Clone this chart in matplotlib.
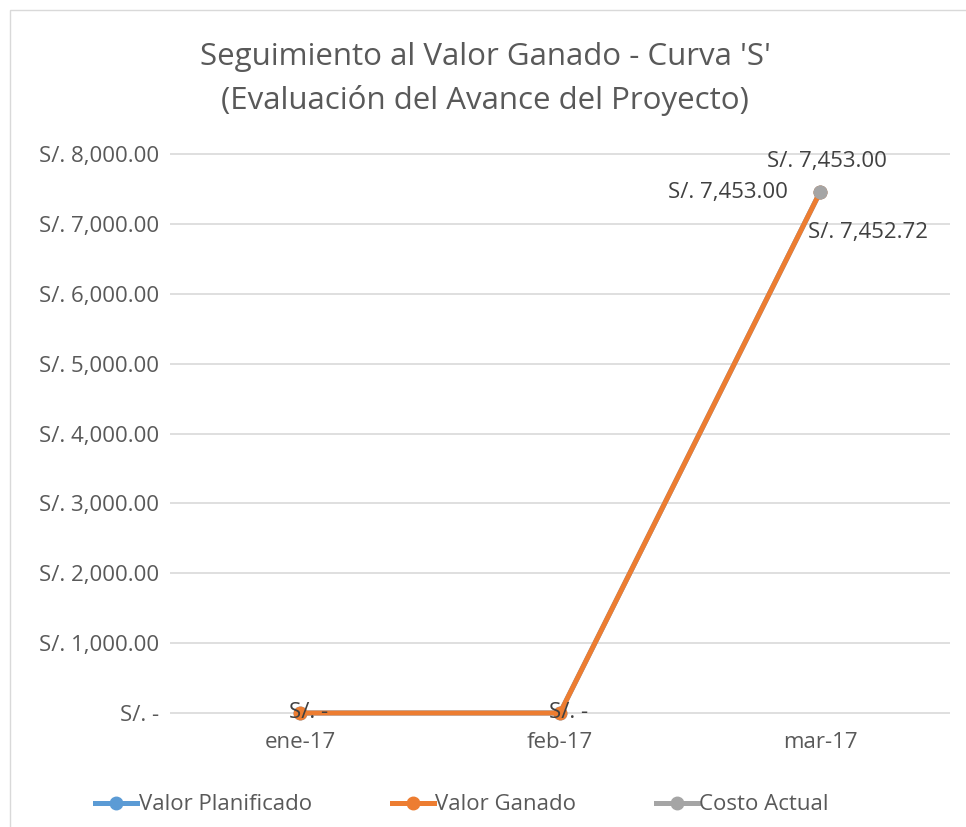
import numpy as np
import matplotlib.pyplot as plt
from matplotlib.lines import Line2D
from matplotlib.patches import Rectangle

plt.rcParams['font.family'] = ['Open Sans', 'DejaVu Sans']

# chart data
months = ['ene-17', 'feb-17', 'mar-17']
valor_planificado = [0.0, 0.0, 7453.00]
valor_ganado = [0.0, 0.0, 7452.72]
costo_actual = [np.nan, np.nan, 7453.00]
yticks = [0, 1000, 2000, 3000, 4000, 5000, 6000, 7000, 8000]

TXT = '#595959'
LBL = '#404040'
GRID = '#d9d9d9'
BLUE = '#5b9bd5'
ORANGE = '#ed7d31'
GRAY = '#a5a5a5'
FS = 16


def money(v):
    if v == 0:
        return 'S/. -'
    return f'S/. {v:,.2f}'


W, H = 966, 827
fig = plt.figure(figsize=(W / 100, H / 100), dpi=100)
ax = fig.add_axes([170 / W, 1 - 740 / H, 780 / W, (740 - 120) / H])

x = np.arange(len(months))
ax.plot(x, valor_planificado, color=BLUE, lw=3.6, marker='o', ms=9, zorder=3,
        solid_capstyle='round')
ax.plot(x, valor_ganado, color=ORANGE, lw=3.6, marker='o', ms=9, zorder=4,
        solid_capstyle='round')
ax.plot(x, costo_actual, color=GRAY, lw=3.6, marker='o', ms=9, zorder=5)

ax.set_xlim(-0.5, 2.5)
# zero line sits at y=713 px, 8000 at y=154 px
ymax = 8000
lo = -(740 - 713) / (713 - 154) * ymax
hi = ymax + (154 - 120) / (713 - 154) * ymax
ax.set_ylim(lo, hi)

ax.set_yticks(yticks)
ax.set_yticklabels([money(v) for v in yticks])
ax.set_xticks(x)
ax.set_xticklabels([])
ax.tick_params(length=0, colors=TXT, labelsize=FS)
ax.tick_params(axis='y', pad=8)
ax.grid(axis='y', color=GRID, lw=1.2)
ax.set_axisbelow(True)
for s in ax.spines.values():
    s.set_visible(False)

# x labels sit just below the zero line
for i, m in enumerate(months):
    ax.annotate(m, (i, 0), xytext=(0, -14), textcoords='offset points',
                ha='center', va='top', color=TXT, fontsize=FS)

# data labels
for i in range(2):
    ax.annotate(money(valor_ganado[i]), (i, valor_ganado[i]), xytext=(6, 0),
                textcoords='offset points', ha='center', va='center',
                color=LBL, fontsize=FS, zorder=6)
ax.annotate(money(valor_planificado[2]), (2, valor_planificado[2]), xytext=(-23, 0),
            textcoords='offset points', ha='right', va='center',
            color=LBL, fontsize=FS)
ax.annotate(money(costo_actual[2]), (2, costo_actual[2]), xytext=(5, 22),
            textcoords='offset points', ha='center', va='center',
            color=LBL, fontsize=FS)
ax.annotate(money(valor_ganado[2]), (2, valor_ganado[2]), xytext=(-9, -29),
            textcoords='offset points', ha='left', va='center',
            color=LBL, fontsize=FS)

fig.text(485 / W, 1 - 79 / H,
         "Seguimiento al Valor Ganado - Curva 'S'\n(Evaluación del Avance del Proyecto)",
         ha='center', va='center', fontsize=22.5, color=TXT, linespacing=1.5)

handles = [Line2D([], [], color=c, lw=3.6, marker='o', ms=9)
           for c in (BLUE, ORANGE, GRAY)]
fig.legend(handles, ['Valor Planificado', 'Valor Ganado', 'Costo Actual'],
           loc='center', bbox_to_anchor=(462 / W, 1 - 805 / H), ncol=3,
           frameon=False, fontsize=FS, labelcolor=TXT, handlelength=1.9,
           handletextpad=0.05, columnspacing=3.6)

fig.patches.append(Rectangle((10 / W, -0.05), 1.2, 1 - 10 / H + 0.05,
                             transform=fig.transFigure, fill=False,
                             edgecolor=GRID, lw=1))

fig.savefig('out.png', dpi=100)
